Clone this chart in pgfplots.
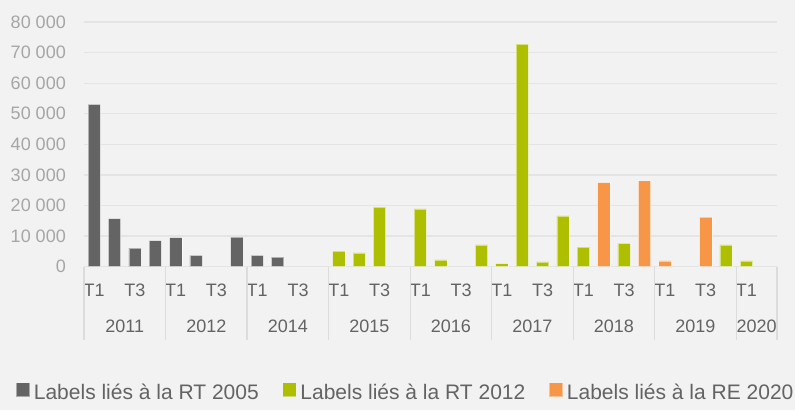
\documentclass[border=0pt]{standalone}
\usepackage{fontspec}
\setmainfont{Liberation Sans}
\usepackage{pgfplots}
\pgfplotsset{compat=1.18}
\definecolor{bg}{HTML}{F2F2F2}
\definecolor{cgray}{HTML}{646464}
\definecolor{cgreen}{HTML}{AEBF00}
\definecolor{corange}{HTML}{F79646}
\definecolor{gridc}{HTML}{E4E4E4}
\definecolor{sepc}{HTML}{DCDCDC}
\definecolor{ytc}{HTML}{A6A6A6}
\definecolor{xtc}{HTML}{636363}
\definecolor{legc}{HTML}{636363}
\begin{document}
\begin{tikzpicture}
\fill[bg] (0,0) rectangle (795pt,410pt);
\begin{axis}[
  at={(84pt,143.3pt)}, anchor=south west,
  scale only axis, width=693pt, height=244.7pt,
  xmin=-0.5, xmax=33.5, ymin=0, ymax=80000,
  clip=false,
  axis line style={draw=none},
  tick style={draw=none},
  major tick length=0pt,
  ymajorgrids, grid style={gridc, line width=1.3pt},
  ytick={0,10000,...,80000},
  scaled y ticks=false,
  /pgf/number format/assume math mode=true,
  /pgf/number format/1000 sep={\ },
  yticklabel style={font=\fontsize{18}{20}\selectfont, text=ytc, inner sep=0pt, anchor=east, xshift=-18pt},
  xtick={0,2,...,32},
  xticklabels={T1,T3,T1,T3,T1,T3,T1,T3,T1,T3,T1,T3,T1,T3,T1,T3,T1},
  xticklabel style={font=\fontsize{18}{20}\selectfont, text=xtc, inner sep=0pt, anchor=north, yshift=-16.8pt},
  extra x ticks={1.5,5.5,9.5,13.5,17.5,21.5,25.5,29.5,32.5},
  extra x tick labels={2011,2012,2014,2015,2016,2017,2018,2019,2020},
  extra x tick style={xticklabel style={yshift=-36.2pt}},
  ybar, bar width=12.3pt,
  legend columns=3,
  legend style={at={(0.463,-0.512)}, anchor=center, draw=none, fill=none, inner sep=0pt,
    column sep=0pt,
    nodes={inner sep=0pt, font=\fontsize{21}{24}\selectfont, text=legc},
    /tikz/every odd column/.append style={column sep=4.5pt},
    /tikz/every even column/.append style={column sep=24pt}},
]
\addplot[bar shift=0pt, fill=cgray, draw=white, draw opacity=0.5, line width=0.6pt,
  legend image code/.code={\fill[cgray] (0pt,-3.5pt) rectangle (12.5pt,9pt);}]
  coordinates {(0,53100) (1,15700) (2,6100) (3,8500) (4,9500) (5,3700) (7,9700) (8,3700) (9,3100)};
\addlegendentry{Labels liés à la RT 2005}
\addplot[bar shift=0pt, fill=cgreen, draw=white, draw opacity=0.5, line width=0.6pt,
  legend image code/.code={\fill[cgreen] (0pt,-3.5pt) rectangle (12.5pt,9pt);}]
  coordinates {(12,5100) (13,4500) (14,19500) (16,18900) (17,2200) (19,7100) (20,1000) (21,72800) (22,1600) (23,16600) (24,6400) (26,7600) (31,7100) (32,1900)};
\addlegendentry{Labels liés à la RT 2012}
\addplot[bar shift=0pt, fill=corange, draw=white, draw opacity=0.5, line width=0.6pt,
  legend image code/.code={\fill[corange] (0pt,-3.5pt) rectangle (12.5pt,9pt);}]
  coordinates {(25,27500) (27,28100) (28,1900) (30,16200)};
\addlegendentry{Labels liés à la RE 2020}
\pgfplotsinvokeforeach{-0.5,3.5,7.5,11.5,15.5,19.5,23.5,27.5,31.5,33.5}{
  \draw[sepc, line width=1.2pt] (axis cs:#1,0) -- ++(0pt,-73pt);
}
\end{axis}
\end{tikzpicture}
\end{document}
